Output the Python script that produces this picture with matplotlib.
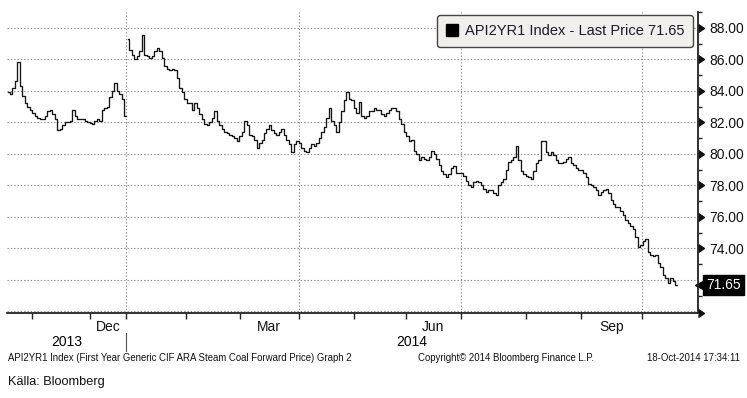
import numpy as np
import matplotlib
matplotlib.use("Agg")
import matplotlib.pyplot as plt
from matplotlib.lines import Line2D

# ---- data -----------------------------------------------------------------
price = [
    83.9, 83.8, 84.2, 84.6, 85.8, 84.3, 83.7, 83.2, 83.0, 82.8,
    82.6, 82.4, 82.3, 82.2, 82.2, 82.4, 82.7, 82.8, 82.5, 82.2,
    81.5, 81.6, 81.8, 82.0, 82.0, 82.1, 82.8, 82.4, 82.2, 82.2,
    82.2, 82.1, 82.0, 81.95, 81.9, 82.1, 82.2, 82.1, 82.8, 82.9,
    83.0, 83.6, 84.0, 84.5, 84.0, 83.8, 83.5, 82.4,
    87.3, 86.6, 86.3, 86.0, 86.2, 86.5, 87.55, 86.3, 86.2, 86.1,
    86.2, 86.5, 86.7, 86.5, 86.1, 85.6, 85.4, 85.3, 85.4, 85.3,
    84.8, 84.2, 83.9, 83.5, 83.2, 83.2, 82.8, 83.2, 82.9, 82.5,
    82.2, 81.9, 81.8, 82.0, 82.3, 82.7, 82.1, 81.8, 81.6, 81.4,
    81.3, 81.2, 81.1, 81.0, 80.8, 81.1, 81.4, 82.1, 81.8,
    81.2, 81.1, 80.9, 80.4, 80.7, 80.9, 81.3, 81.6, 81.8, 81.5,
    81.3, 81.2, 81.4, 81.6, 81.2, 80.9, 80.6, 80.1, 80.6, 80.8,
    80.7, 80.4, 80.2, 80.1, 80.4, 80.6, 80.5, 80.7, 81.0, 81.4,
    81.7, 82.3, 82.9, 82.1, 81.8, 81.4, 82.0, 82.7, 83.4, 83.9,
    83.5, 83.4, 82.9, 82.6, 83.3, 82.4, 82.3, 82.4, 82.7, 82.7,
    82.9, 82.8, 82.8, 82.5, 82.4, 82.6, 82.8, 82.9, 82.9, 82.7,
    82.2, 81.9, 81.4, 81.1, 80.8, 80.9, 80.2, 80.0, 79.6, 79.8,
    79.7, 79.6, 79.8, 80.2, 80.0, 79.7, 79.3, 78.9, 78.7, 78.5,
    78.7, 79.1, 79.2, 78.8, 78.8, 78.8, 78.6, 78.3, 78.0, 77.9,
    78.2, 78.3, 78.2, 78.0, 77.8, 77.6,
    77.7, 77.7, 77.5, 77.4, 78.0, 78.2, 78.4, 79.0, 79.5, 79.6,
    79.8, 80.5, 79.6, 78.9, 78.7, 78.6, 78.5, 78.4, 78.9, 79.4,
    79.6, 80.8, 80.8, 80.1, 79.9, 80.1, 79.9, 79.6, 79.4, 79.4,
    79.5, 79.7, 79.8, 79.4, 79.3, 79.1, 79.0, 79.0, 78.8, 78.5,
    78.1, 78.0, 77.9, 77.7, 77.4, 77.6, 77.7, 77.8, 77.5, 77.1,
    76.8, 76.6, 76.6, 76.4, 76.1, 75.8, 75.6, 75.4, 75.2, 74.7,
    74.1, 74.2, 74.5, 74.6, 73.8, 73.6, 73.5, 73.6, 73.1, 72.8,
    72.3, 72.1, 71.8, 72.1, 71.9, 71.65,
]
gap_after = 48          # trading-day index where the series resumes after the year-end gap

# trading-day index of each month start (Nov 2013 .. Oct 2014)
month_names = ['Nov', 'Dec', 'Jan', 'Feb', 'Mar', 'Apr', 'May', 'Jun',
               'Jul', 'Aug', 'Sep', 'Oct']
month_start = [9.4, 32.7, 47, 71.2, 92.8, 116.5, 138.6, 159.4,
               181.5, 207.6, 229.7, 254]
labelled_months = ['Dec', 'Mar', 'Jun', 'Sep']
grid_months = ['Jan', 'Apr', 'Jul', 'Oct']
years = ['2013', '2014']
y_grid = [70, 72, 74, 76, 78, 80, 82, 84, 86, 88]
y_labelled = [74, 76, 78, 80, 82, 84, 86, 88]
y_minor = [71, 73, 75, 77, 79, 81, 83, 85, 87, 89]
last_price = 71.65
legend_label = 'API2YR1 Index - Last Price 71.65'

FONT = ['Liberation Sans', 'DejaVu Sans']
plt.rcParams['font.family'] = FONT

W, H = 747, 398
fig = plt.figure(figsize=(W / 100, H / 100), dpi=100)
fig.patch.set_facecolor('white')
ax = fig.add_axes([7 / W, 1 - 313 / H, (698 - 7) / W, (313 - 12) / H])

x = np.arange(len(price))
p = np.array(price)
ax.plot(x[:gap_after], p[:gap_after], drawstyle='steps-mid', color='#151515', lw=0.95)
ax.plot(x[gap_after:], p[gap_after:], drawstyle='steps-mid', color='#151515', lw=0.95)

ax.set_xlim(-0.6, 276.6)
ax.set_ylim(69.9, 89.0)

# spines
for s in ['left', 'top']:
    ax.spines[s].set_visible(False)
ax.spines['bottom'].set_color('#222222')
ax.spines['bottom'].set_linewidth(1.3)
ax.spines['right'].set_color('#222222')
ax.spines['right'].set_linewidth(1.3)

# y axis on the right
ax.yaxis.tick_right()
ax.set_yticks(y_grid)
ax.set_yticklabels([f'{v:.2f}' if v in y_labelled else '' for v in y_grid], fontsize=10)
ax.set_yticks(y_minor, minor=True)
ax.tick_params(axis='y', which='major', length=0, pad=8, colors='#111111')
ax.tick_params(axis='y', which='minor', length=3, width=1.0, direction='out', color='#222222')
ax.yaxis.grid(True, which='major', linestyle=(0, (1.2, 1.8)), color='#8a8a8a', lw=0.8)
ytr = ax.get_yaxis_transform()
ax.plot([1.0] * len(y_labelled), y_labelled, ls='none', marker=9, ms=6, color='#111111',
        transform=ytr, clip_on=False)

# x axis
mid_pos, mid_lab = [], []
for i, name in enumerate(month_names):
    if name in labelled_months:
        mid_pos.append((month_start[i] + month_start[i + 1]) / 2)
        mid_lab.append(name)
ax.set_xticks(month_start)
ax.set_xticklabels([''] * len(month_start))
ax.set_xticks(mid_pos, minor=True)
ax.set_xticklabels(mid_lab, minor=True, fontsize=10)
ax.tick_params(axis='x', which='major', length=4, width=1.0, direction='out', color='#222222')
ax.tick_params(axis='x', which='minor', length=0, pad=5, colors='#111111')
for i, name in enumerate(month_names):
    if name in grid_months:
        ax.axvline(month_start[i], linestyle=(0, (1.2, 1.8)), color='#8a8a8a', lw=0.8, zorder=0)

# arrow at end of bottom axis
ax.plot([1.0], [0.0], marker=9, ms=6, color='#111111', transform=ax.transAxes, clip_on=False)

# year labels and separator
xtr = ax.get_xaxis_transform()
jan = month_start[month_names.index('Jan')]
lo, hi = ax.get_xlim()
ax.text((lo + jan) / 2, -0.095, years[0], transform=xtr, ha='center', va='center', fontsize=10)
ax.text((jan + hi) / 2, -0.095, years[1], transform=xtr, ha='center', va='center', fontsize=10)
ax.plot([jan, jan], [-0.065, -0.125], transform=xtr, color='#555555', lw=0.8, clip_on=False)

# last price tag
ax.plot([1.003], [last_price], marker='<', ms=7, color='black', transform=ytr, clip_on=False)
ax.text(1.012, last_price, f'{last_price:.2f}', transform=ytr, ha='left', va='center',
        fontsize=10, color='white',
        bbox=dict(boxstyle='square,pad=0.22', fc='black', ec='black'))

# legend
handle = Line2D([], [], marker='s', color='black', ls='none', ms=9)
leg = ax.legend([handle], [legend_label], loc='upper right', bbox_to_anchor=(0.993, 0.99),
                borderaxespad=0, handlelength=0.8, handletextpad=0.45, borderpad=0.62,
                fontsize=10.5, fancybox=True, framealpha=1)
leg.get_frame().set_facecolor('#f1efec')
leg.get_frame().set_edgecolor('#444444')
leg.get_frame().set_linewidth(1.0)
for t in leg.get_texts():
    t.set_color('#1a1a2a')

# footer
fig.text(8 / W, 1 - 358 / H,
         'API2YR1 Index (First Year Generic CIF ARA Steam Coal Forward Price) Graph 2',
         fontsize=6.9, va='center', ha='left', color='#111111')
fig.text(418 / W, 1 - 358 / H, 'Copyright\u00a9 2014 Bloomberg Finance L.P.',
         fontsize=6.9, va='center', ha='left', color='#111111')
fig.text(740 / W, 1 - 358 / H, '18-Oct-2014 17:34:11',
         fontsize=6.9, va='center', ha='right', color='#111111')
fig.text(8 / W, 1 - 382 / H, 'Källa: Bloomberg', fontsize=9.2, va='center', ha='left',
         color='#111111')

fig.savefig('out.png', dpi=100)
